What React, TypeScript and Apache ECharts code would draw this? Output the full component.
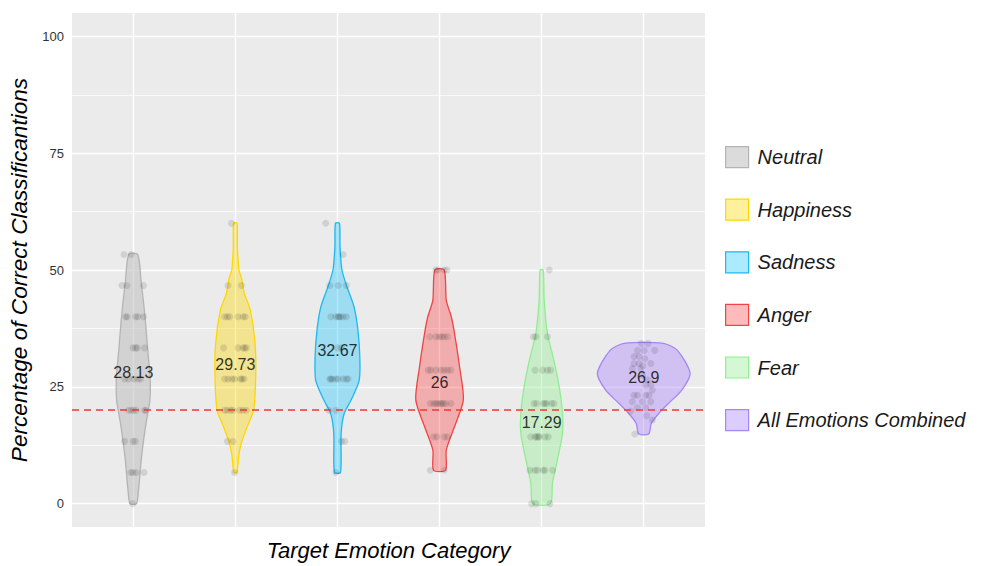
import React, { useEffect, useRef } from "react";
import * as echarts from "echarts";

const CATEGORIES = ["Neutral", "Happiness", "Sadness", "Anger", "Fear", "All Emotions Combined"];
const MEAN_VALUES = [28.13, 29.73, 32.67, 26, 17.29, 26.9];
const CHANCE_LEVEL = 20;
const Y_BREAKS = [0, 25, 50, 75, 100];
const Y_MINOR_BREAKS = [12.5, 37.5, 62.5, 87.5];

// violin outlines: [value, half-width in category units]
const NEUTRAL_VIOLIN = [[0, 0.032], [3, 0.052], [10, 0.081], [16.5, 0.12], [22, 0.162], [25, 0.167], [28, 0.162], [32.8, 0.142], [40, 0.115], [47.8, 0.076], [53.33, 0.044]];
const HAPPINESS_VIOLIN = [[6.67, 0.015], [10, 0.032], [13, 0.059], [16.4, 0.115], [20, 0.179], [27, 0.199], [34.3, 0.193], [41.4, 0.147], [45, 0.088], [48.4, 0.059], [50, 0.035], [55, 0.02], [60, 0.017]];
const SADNESS_VIOLIN = [[6.67, 0.03], [15, 0.036], [19.3, 0.066], [22, 0.13], [26.4, 0.213], [31.4, 0.219], [37, 0.201], [42, 0.164], [46.3, 0.095], [50, 0.044], [55, 0.025], [60, 0.02]];
const ANGER_VIOLIN = [[7.14, 0.059], [11.5, 0.066], [16.5, 0.147], [22.2, 0.233], [29.3, 0.196], [36.4, 0.147], [40, 0.115], [43.5, 0.066], [50, 0.046]];
const FEAR_VIOLIN = [[0, 0.086], [4.4, 0.106], [9.4, 0.155], [15, 0.204], [19.3, 0.204], [25, 0.172], [30.7, 0.12], [36.4, 0.057], [43.5, 0.025], [50, 0.015]];
const ALL_VIOLIN = [[14.9, 0.049], [17.2, 0.074], [19.3, 0.147], [21.5, 0.245], [24.3, 0.373], [27.9, 0.454], [32.8, 0.33], [34.3, 0.193]];

// jittered observations: [jitter offset in category units, value]
const NEUTRAL_POINTS = [[-0.091, 53.33], [-0.02, 53.33], [-0.111, 46.67], [-0.062, 46.67], [0.101, 46.67], [-0.075, 40], [-0.059, 40], [0.023, 40], [0.046, 40], [0.101, 40], [-0.003, 33.33], [0.023, 33.33], [0.039, 33.33], [0.111, 33.33], [-0.085, 26.67], [-0.046, 26.67], [0.007, 26.67], [0.046, 26.67], [0.072, 26.67], [-0.046, 20], [-0.02, 20], [0.003, 20], [0.029, 20], [0.111, 20], [0.121, 20], [-0.085, 13.33], [-0.003, 13.33], [0.02, 13.33], [-0.026, 6.67], [-0.003, 6.67], [0.029, 6.67], [0.105, 6.67], [-0.005, 0]];
const HAPPINESS_POINTS = [[-0.039, 60], [-0.072, 46.67], [0.059, 46.67], [-0.105, 40], [-0.078, 40], [-0.056, 40], [0.026, 40], [0.075, 40], [0.098, 40], [-0.115, 33.33], [0.026, 33.33], [0.075, 33.33], [0.091, 33.33], [0.108, 33.33], [-0.105, 26.67], [-0.072, 26.67], [-0.033, 26.67], [-0.007, 26.67], [0.052, 26.67], [0.065, 26.67], [0.085, 26.67], [-0.105, 20], [-0.078, 20], [-0.046, 20], [-0.023, 20], [0.042, 20], [0.075, 20], [0.108, 20], [-0.078, 13.33], [-0.023, 13.33], [-0.007, 6.67]];
const SADNESS_POINTS = [[-0.115, 60], [0.056, 53.33], [-0.075, 46.67], [0.007, 46.67], [0.088, 46.67], [-0.065, 40], [-0.016, 40], [0.007, 40], [0.016, 40], [0.029, 40], [0.056, 40], [0.088, 40], [0, 33.33], [0.039, 33.33], [-0.075, 26.67], [-0.065, 26.67], [-0.049, 26.67], [-0.016, 26.67], [0.007, 26.67], [0.056, 26.67], [0.088, 26.67], [0.105, 26.67], [-0.085, 20], [-0.016, 20], [0.039, 13.33], [0.072, 13.33], [-0.016, 6.67]];
const ANGER_POINTS = [[-0.036, 50], [-0.013, 50], [0.046, 50], [0.072, 50], [-0.095, 35.71], [-0.036, 35.71], [-0.003, 35.71], [0.023, 35.71], [0.046, 35.71], [0.078, 35.71], [-0.111, 28.57], [-0.085, 28.57], [-0.036, 28.57], [0.013, 28.57], [0.046, 28.57], [0.078, 28.57], [0.111, 28.57], [-0.091, 21.43], [-0.059, 21.43], [-0.036, 21.43], [-0.02, 21.43], [0.007, 21.43], [0.02, 21.43], [0.039, 21.43], [0.062, 21.43], [0.111, 21.43], [-0.059, 14.29], [-0.026, 14.29], [0.046, 14.29], [0.078, 14.29], [-0.091, 7.14], [0.046, 7.14]];
const FEAR_POINTS = [[0.075, 50], [-0.081, 35.71], [-0.056, 35.71], [0.056, 35.71], [-0.065, 28.57], [0.01, 28.57], [0.056, 28.57], [0.088, 28.57], [-0.075, 21.43], [-0.049, 21.43], [0.016, 21.43], [0.033, 21.43], [0.049, 21.43], [0.098, 21.43], [0.121, 21.43], [-0.108, 14.29], [-0.065, 14.29], [-0.049, 14.29], [-0.033, 14.29], [-0.023, 14.29], [0.033, 14.29], [0.065, 14.29], [-0.115, 7.14], [-0.065, 7.14], [-0.042, 7.14], [0.016, 7.14], [0.033, 7.14], [0.108, 7.14], [-0.098, 0], [-0.056, 0], [0.081, 0]];
const ALL_POINTS = [[-0.023, 34.3], [0.042, 34.3], [-0.062, 32.8], [0.003, 32.8], [0.108, 32.8], [-0.095, 31.5], [-0.046, 31.5], [0.01, 31.0], [-0.095, 30.0], [-0.046, 30.0], [0.069, 30.0], [-0.01, 29.5], [-0.111, 28.9], [-0.029, 28.9], [-0.01, 27.5], [0.039, 26.5], [0.02, 25.4], [0.069, 25.4], [0.085, 24.3], [-0.095, 23.2], [-0.062, 23.2], [0.02, 23.2], [0.052, 23.2], [-0.111, 21.8], [-0.013, 21.8], [0.069, 21.8], [-0.062, 20.5], [0.02, 20.5], [-0.127, 19.8], [0.029, 18.8], [0.085, 17.9], [-0.088, 14.9]];

const VIOLINS = [NEUTRAL_VIOLIN, HAPPINESS_VIOLIN, SADNESS_VIOLIN, ANGER_VIOLIN, FEAR_VIOLIN, ALL_VIOLIN];
const POINTS = [NEUTRAL_POINTS, HAPPINESS_POINTS, SADNESS_POINTS, ANGER_POINTS, FEAR_POINTS, ALL_POINTS];

const FILLS = [
  "rgba(190,190,190,0.55)",
  "rgba(255,215,0,0.38)",
  "rgba(0,191,255,0.33)",
  "rgba(255,48,48,0.33)",
  "rgba(144,238,144,0.4)",
  "rgba(171,130,255,0.4)",
];
const STROKES = ["#b4b4b4", "#FFD700", "#1EB8F0", "#F04444", "#90EE90", "#A586F5"];
const FONT = "'Liberation Sans', Arial, Helvetica, sans-serif";

export default function App() {
  const ref = useRef<HTMLDivElement>(null);
  useEffect(() => {
    if (!ref.current) return;
    const chart = echarts.init(ref.current, undefined, { renderer: "svg" });
    const catIdx = CATEGORIES.map((_, i) => i);

    const violinSeries = CATEGORIES.map((name, i) => ({
      type: "custom",
      name,
      z: 2,
      silent: true,
      itemStyle: { color: FILLS[i], borderColor: STROKES[i], borderWidth: 1 },
      data: [[i]],
      renderItem: (params: any, api: any) => {
        const c = api.value(0);
        const prof = VIOLINS[i];
        const right = prof.map(([v, hw]) => api.coord([c + hw, v]));
        const left = prof.slice().reverse().map(([v, hw]) => api.coord([c - hw, v]));
        return {
          type: "polygon",
          shape: { points: right.concat(left), smooth: 0.25 },
          style: { fill: FILLS[i], stroke: STROKES[i], lineWidth: 1.3 },
        };
      },
    }));

    const pointData: number[][] = [];
    POINTS.forEach((arr, i) => arr.forEach(([dx, v]) => pointData.push([i + dx, v])));

    const option: any = {
      animation: false,
      textStyle: { fontFamily: FONT },
      grid: {
        left: 72,
        right: 277,
        top: 13,
        bottom: 39,
        show: true,
        backgroundColor: "#EBEBEB",
        borderWidth: 0,
        containLabel: false,
      },
      legend: {
        orient: "vertical",
        left: 720,
        top: 141,
        itemWidth: 23,
        itemHeight: 21,
        itemGap: 30.4,
        icon: "rect",
        selectedMode: false,
        textStyle: { fontSize: 20, fontStyle: "italic", color: "#1a1a1a", fontFamily: FONT, padding: [0, 0, 0, 4] },
        data: CATEGORIES.map((name, i) => ({
          name,
          itemStyle: { color: FILLS[i], borderColor: STROKES[i], borderWidth: 1.2 },
        })),
      },
      xAxis: {
        type: "value",
        min: -0.6,
        max: 5.6,
        name: "Target Emotion Category",
        nameLocation: "middle",
        nameGap: 12,
        nameTextStyle: { fontSize: 22, fontStyle: "italic", color: "#000", fontFamily: FONT },
        axisLine: { show: false },
        axisLabel: { show: false },
        axisTick: { show: true, length: 4, customValues: catIdx, lineStyle: { color: "#333", width: 1 } },
        splitLine: { show: false },
      },
      yAxis: {
        type: "value",
        min: -5,
        max: 105,
        name: "Percentage of Correct Classificantions",
        nameLocation: "middle",
        nameGap: 36,
        nameTextStyle: { fontSize: 22.6, fontStyle: "italic", color: "#000", fontFamily: FONT },
        axisLine: { show: false },
        axisLabel: { show: true, customValues: Y_BREAKS, fontSize: 13, color: "#333", margin: 8, fontFamily: FONT },
        axisTick: { show: true, length: 4, customValues: Y_BREAKS, lineStyle: { color: "#333", width: 1 } },
        splitLine: { show: false },
      },
      series: [
        {
          type: "scatter",
          name: "__grid",
          z: 1,
          silent: true,
          data: [],
          markLine: {
            z: 1,
            silent: true,
            symbol: "none",
            label: { show: false },
            animation: false,
            data: [
              ...Y_MINOR_BREAKS.map((v) => ({ yAxis: v, lineStyle: { color: "#FFFFFF", width: 0.7, type: "solid" } })),
              ...Y_BREAKS.map((v) => ({ yAxis: v, lineStyle: { color: "#FFFFFF", width: 1.4, type: "solid" } })),
              ...catIdx.map((v) => ({ xAxis: v, lineStyle: { color: "#FFFFFF", width: 1.4, type: "solid" } })),
            ],
          },
        },
        ...violinSeries,
        {
          type: "scatter",
          name: "__points",
          z: 3,
          silent: true,
          symbolSize: 7,
          itemStyle: { color: "rgba(40,40,40,0.16)" },
          data: pointData,
        },
        {
          type: "scatter",
          name: "__means",
          z: 5,
          silent: true,
          symbolSize: 1,
          itemStyle: { color: "rgba(0,0,0,0)" },
          label: {
            show: true,
            position: "inside",
            fontSize: 16,
            color: "#000",
            fontFamily: FONT,
            formatter: (p: any) => String(p.value[1]),
          },
          data: MEAN_VALUES.map((m, i) => [i, m]),
          markLine: {
            z: 4,
            silent: true,
            symbol: "none",
            label: { show: false },
            animation: false,
            lineStyle: { color: "#F03A2E", width: 1.6, type: [7, 5] },
            data: [{ yAxis: CHANCE_LEVEL }],
          },
        },
      ],
    };
    chart.setOption(option);
    return () => chart.dispose();
  }, []);
  return <div ref={ref} style={{ position: "absolute", left: 0, top: 0, width: 982, height: 566 }} />;
}
